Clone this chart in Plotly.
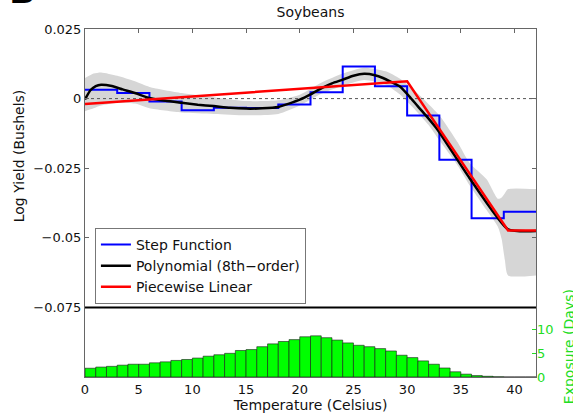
import plotly.graph_objects as go

# ---------------- data ----------------
step_edges = [0, 3, 6, 9, 12, 15, 18, 21, 24, 27, 30, 33, 36, 39, 42]
step_values = [0.0032, 0.0020, -0.0010, -0.0042, -0.0033, -0.0034, -0.0021,
               0.0023, 0.0115, 0.0044, -0.0061, -0.0220, -0.0430, -0.0406]

poly_x = [0, 0.5, 1, 1.5, 2.5, 3.5, 4.65, 6, 7.5, 9, 10.5, 12, 13.5, 15, 16.5,
          18, 19, 20, 21, 22, 23, 24, 25, 26, 27, 27.75, 28.5, 29.3, 30.2, 31,
          31.8, 32.8, 35.8, 39.4, 42]
poly_y = [-0.0003, 0.0030, 0.0045, 0.0050, 0.0045, 0.0033, 0.0020, 0.0002,
          -0.0008, -0.0015, -0.0022, -0.0027, -0.0033, -0.0036, -0.0035,
          -0.0030, -0.0018, -0.0004, 0.0015, 0.0037, 0.0055, 0.0068, 0.0082,
          0.0089, 0.0084, 0.0074, 0.0060, 0.0044, 0.0008, -0.0028, -0.0063,
          -0.0110, -0.0285, -0.0470, -0.0476]

band_x = [0, 0.8, 1.5, 3, 4.65, 6, 9, 12, 15, 18, 20, 22, 24, 26, 28, 29.3,
          30.5, 32, 33, 34.7, 35.8, 37.4, 38.45, 38.8, 39.1, 39.4, 42]
band_upper = [0.0074, 0.0090, 0.0094, 0.0082, 0.0062, 0.0042, 0.0020, 0.0005,
              -0.0009, -0.0006, 0.0014, 0.0057, 0.0090, 0.0111, 0.0098, 0.0072,
              0.0035, -0.0020, -0.0060, -0.0157, -0.0230, -0.0290, -0.0360,
              -0.0355, -0.0340, -0.0325, -0.0325]
band_lower = [-0.0045, -0.0035, -0.0025, -0.0015, -0.0018, -0.0035, -0.0050,
              -0.0055, -0.0060, -0.0055, -0.0025, 0.0017, 0.0046, 0.0067,
              0.0050, 0.0016, -0.0030, -0.0095, -0.0150, -0.0240, -0.0310,
              -0.0400, -0.0460, -0.0504, -0.0580, -0.0635, -0.0635]

pw_x = [0, 30, 39.4, 42]
pw_y = [-0.0019, 0.0062, -0.0474, -0.0474]

temp_bins = list(range(0, 42))
exposure_days = [1.85, 2.1, 2.25, 2.5, 2.7, 2.7, 3.0, 3.2, 3.5, 3.7, 4.0, 4.4,
                 4.7, 5.0, 5.6, 5.8, 6.4, 7.0, 7.5, 7.9, 8.5, 8.7, 8.3, 7.8,
                 7.2, 6.7, 6.4, 6.0, 5.5, 4.6, 4.1, 3.4, 2.7, 1.9, 1.1, 0.6,
                 0.3, 0.15, 0.05, 0, 0, 0]

y_ticks = [0.025, 0, -0.025, -0.05, -0.075]
y_ticktext = ["0.025", "0", "\u22120.025", "\u22120.05", "\u22120.075"]
x_ticks = [0, 5, 10, 15, 20, 25, 30, 35, 40]
exp_ticks = [0, 5, 10]

FONT = "DejaVu Sans"
GREEN_TXT = "#22dd22"

fig = go.Figure()

# confidence band
fig.add_trace(go.Scatter(x=band_x, y=band_lower, mode="lines",
                         line=dict(width=0, shape="spline", smoothing=0.6),
                         showlegend=False, hoverinfo="skip"))
fig.add_trace(go.Scatter(x=band_x, y=band_upper, mode="lines", fill="tonexty",
                         fillcolor="#d6d6d6",
                         line=dict(width=0, shape="spline", smoothing=0.6),
                         showlegend=False, hoverinfo="skip"))

# dotted zero line
fig.add_trace(go.Scatter(x=[0, 42], y=[0, 0], mode="lines",
                         line=dict(color="#555555", width=1, dash="dot"),
                         showlegend=False, hoverinfo="skip"))

# step function
fig.add_trace(go.Scatter(x=step_edges, y=step_values + [step_values[-1]],
                         mode="lines", name="Step Function", legendgroup="a",
                         line=dict(color="#0000ff", width=2, shape="hv")))
# polynomial
fig.add_trace(go.Scatter(x=poly_x, y=poly_y, mode="lines",
                         name="Polynomial (8th\u2212order)", legendgroup="b",
                         line=dict(color="#000000", width=2.5, shape="spline",
                                   smoothing=0.5)))
# piecewise linear
fig.add_trace(go.Scatter(x=pw_x, y=pw_y, mode="lines",
                         name="Piecewise Linear", legendgroup="c",
                         line=dict(color="#ff0000", width=2.5)))

# exposure histogram
fig.add_trace(go.Bar(x=[t + 0.5 for t in temp_bins], y=exposure_days,
                     width=1, yaxis="y2",
                     marker=dict(color="#00ff00",
                                 line=dict(color="#1a1a1a", width=0.6)),
                     showlegend=False, hoverinfo="skip"))

fig.update_layout(
    width=573, height=420,
    margin=dict(l=85, r=37, t=29, b=41),
    paper_bgcolor="white", plot_bgcolor="white",
    font=dict(family=FONT, size=13, color="#111111"),
    showlegend=True,
    legend=dict(x=0.022, y=0.4286, xanchor="left", yanchor="top",
                bgcolor="white", bordercolor="#777777", borderwidth=1,
                font=dict(family=FONT, size=14, color="#111111"),
                traceorder="grouped", tracegroupgap=0),
    xaxis=dict(range=[0, 42], tickvals=x_ticks, ticks="inside", ticklen=4,
               tickcolor="#666666", showline=True, linecolor="#666666",
               linewidth=1, mirror="ticks", showgrid=False, zeroline=False,
               tickfont=dict(family=FONT, size=13, color="#111111"),
               title=dict(text="Temperature (Celsius)", standoff=2,
                          font=dict(family=FONT, size=14, color="#111111"))),
    yaxis=dict(range=[-0.1, 0.025], tickvals=y_ticks, ticktext=y_ticktext,
               ticks="inside", ticklen=4, tickcolor="#666666",
               showline=True, linecolor="#666666", linewidth=1,
               mirror="ticks", showgrid=False, zeroline=False,
               tickfont=dict(family=FONT, size=13, color="#111111")),
    yaxis2=dict(domain=[0, 0.198], range=[0, 14.56], anchor="x",
                side="right", tickvals=exp_ticks, ticks="inside", ticklen=4,
                tickcolor=GREEN_TXT, showline=False, showgrid=False,
                zeroline=False,
                tickfont=dict(family=FONT, size=13, color=GREEN_TXT)),
    title=dict(text="Soybeans", x=0.5 * (85 + 536) / 573, xanchor="center",
               y=1 - 12 / 420, yanchor="middle",
               font=dict(family=FONT, size=14, color="#111111")),
)

# separator line between the panels
fig.add_shape(type="line", xref="paper", yref="y", x0=0, x1=1,
              y0=-0.075, y1=-0.075, line=dict(color="black", width=2))

fig.add_annotation(text="Log Yield (Bushels)", xref="paper", yref="paper",
                   x=(19 - 85) / 451, y=(379 - 157) / 350, textangle=-90,
                   showarrow=False, xanchor="center", yanchor="middle",
                   font=dict(family=FONT, size=14, color="#111111"))
fig.add_annotation(text="Exposure (Days)", xref="paper", yref="paper",
                   x=(569 - 85) / 451, y=(379 - 349) / 350, textangle=-90,
                   showarrow=False, xanchor="center", yanchor="middle",
                   font=dict(family=FONT, size=14, color=GREEN_TXT))
fig.add_annotation(text="<b>B</b>", xref="paper", yref="paper",
                   x=(22 - 85) / 451, y=(379 - 12) / 350, showarrow=False,
                   xanchor="center", yanchor="bottom",
                   font=dict(family="Liberation Sans", size=34, color="black"))

fig.write_html("out.html")
